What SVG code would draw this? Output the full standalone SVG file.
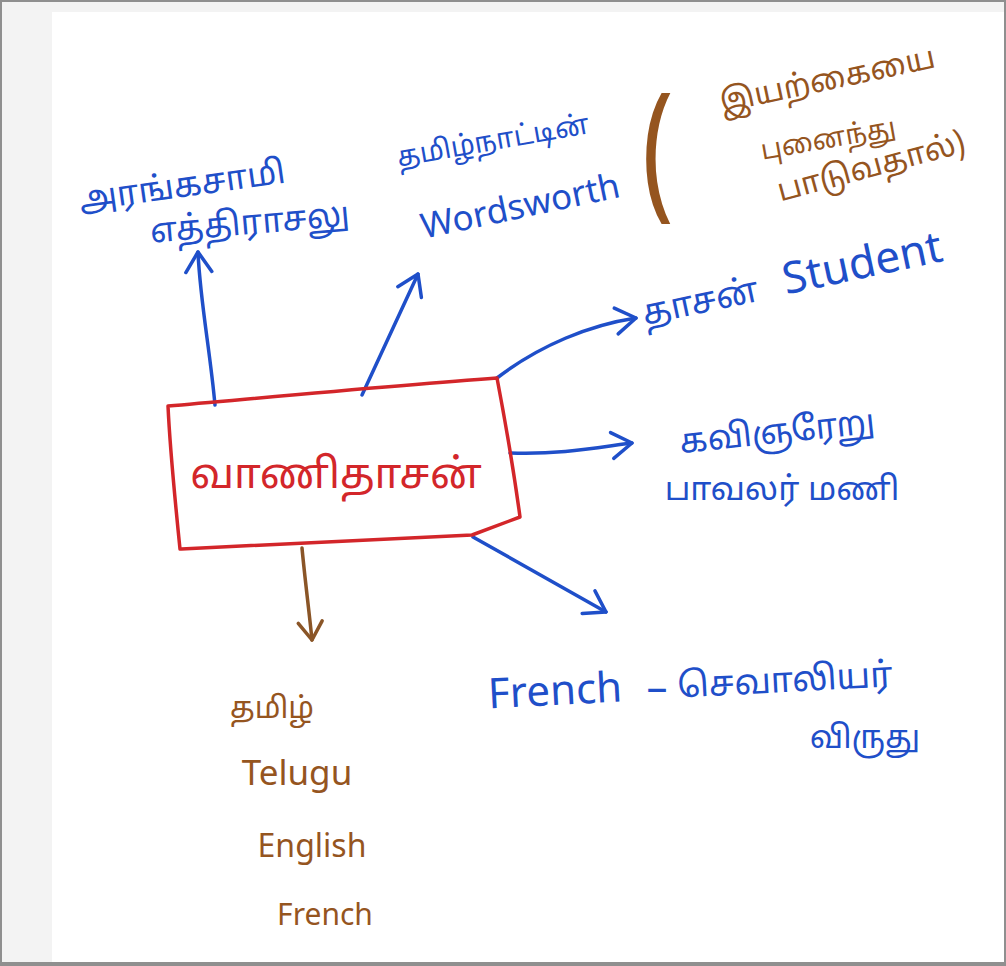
<svg xmlns="http://www.w3.org/2000/svg" width="1006" height="966" viewBox="0 0 1006 966">
<style>
.bg{fill:#ffffff}
.blue{fill:#1f4fc9}
.brown{fill:#95551f}
.red{fill:#d3262a}
.t{font-family:"Noto Sans Tamil","Lohit Tamil","Noto Sans",sans-serif}
.e{font-family:"Noto Sans","Liberation Sans",sans-serif}
.cb{fill:none;stroke:#1f4fc9;stroke-width:3.5;stroke-linecap:round;stroke-linejoin:round}
.cn{fill:none;stroke:#8a5527;stroke-width:3.5;stroke-linecap:round;stroke-linejoin:round}
</style>
<defs>
<marker id="ab" refX="0" refY="0" markerWidth="40" markerHeight="40" markerUnits="userSpaceOnUse" orient="auto" overflow="visible">
<path d="M-20,-13 L0,0 L-20,13" fill="none" stroke="#1f4fc9" stroke-width="3.5" stroke-linecap="round" stroke-linejoin="round"/>
</marker>
<marker id="an" refX="0" refY="0" markerWidth="40" markerHeight="40" markerUnits="userSpaceOnUse" orient="auto" overflow="visible">
<path d="M-18,-12 L0,0 L-18,12" fill="none" stroke="#8a5527" stroke-width="3.5" stroke-linecap="round" stroke-linejoin="round"/>
</marker>
</defs>
<rect x="0" y="0" width="1006" height="966" fill="#8f8f8f"/>
<rect x="2" y="2" width="1002" height="960" fill="#f3f3f3"/>
<rect x="52" y="12" width="952" height="950" class="bg"/>

<g id="connectors">
<path class="cb" d="M215,405 C210,350 200,300 198,252" marker-end="url(#ab)"/>
<path class="cb" d="M362,395 L418,274" marker-end="url(#ab)"/>
<path class="cb" d="M497,378 C540,345 590,325 636,318" marker-end="url(#ab)"/>
<path class="cb" d="M510,453 C560,455 600,447 632,443" marker-end="url(#ab)"/>
<path class="cb" d="M473,537 L606,612" marker-end="url(#ab)"/>
<path class="cn" d="M302,548 C305,580 309,610 312,640" marker-end="url(#an)"/>
</g>

<g id="center">
<path d="M168,406 C260,398 400,385 497,378 C505,420 513,465 520,517 L472,535 C380,540 280,545 180,549 C175,500 170,450 168,406 Z" fill="none" stroke="#d3262a" stroke-width="3.5" stroke-linejoin="round"/>
<text class="t red" x="336" y="488" font-size="42" text-anchor="middle">வாணிதாசன்</text>
</g>

<g id="name">
<text class="t blue" transform="rotate(-8 182 185)" x="182" y="197" font-size="34" text-anchor="middle">அரங்கசாமி</text>
<text class="t blue" transform="rotate(-5 250 225)" x="250" y="234" font-size="34" text-anchor="middle">எத்திராசலு</text>
</g>

<g id="wordsworth">
<text class="t blue" transform="rotate(-10 493 140)" x="493" y="150" font-size="28" text-anchor="middle">தமிழ்நாட்டின்</text>
<text class="e blue" transform="rotate(-12 520 205)" x="520" y="218" font-size="35" text-anchor="middle">Wordsworth</text>
<text class="e brown" transform="translate(642 200) scale(0.7 1)" x="0" y="0" font-size="150">(</text>
<text class="t brown" transform="rotate(-12 827 78)" x="827" y="90" font-size="31" text-anchor="middle">இயற்கையை</text>
<text class="t brown" transform="rotate(-10 828 138)" x="828" y="148" font-size="27" text-anchor="middle">புனைந்து</text>
<text class="t brown" transform="rotate(-15 870 162)" x="870" y="177" font-size="31" text-anchor="middle">பாடுவதால்)</text>
</g>

<g id="student">
<text class="t blue" transform="rotate(-12 700 300)" x="700" y="313" font-size="35" text-anchor="middle">தாசன்</text>
<text class="e blue" transform="rotate(-12 862 262)" x="862" y="278" font-size="44" text-anchor="middle">Student</text>
</g>

<g id="titles">
<text class="t blue" transform="rotate(-6 777 430)" x="777" y="443" font-size="34" text-anchor="middle">கவிஞரேறு</text>
<text class="t blue" x="782" y="500" font-size="33" text-anchor="middle">பாவலர் மணி</text>
</g>

<g id="award">
<text class="e blue" transform="rotate(-3 555 690)" x="555" y="705" font-size="42" text-anchor="middle">French</text>
<text class="e blue" x="657" y="702" font-size="42" text-anchor="middle">–</text>
<text class="t blue" transform="rotate(-3 785 680)" x="785" y="692" font-size="35" text-anchor="middle">செவாலியர்</text>
<text class="t blue" x="865" y="748" font-size="32" text-anchor="middle">விருது</text>
</g>

<g id="languages">
<text class="t brown" x="272" y="718" font-size="30" text-anchor="middle">தமிழ்</text>
<text class="e brown" x="297" y="785" font-size="35" text-anchor="middle">Telugu</text>
<text class="e brown" x="312" y="857" font-size="32" text-anchor="middle">English</text>
<text class="e brown" x="325" y="925" font-size="30" text-anchor="middle">French</text>
</g>
</svg>
